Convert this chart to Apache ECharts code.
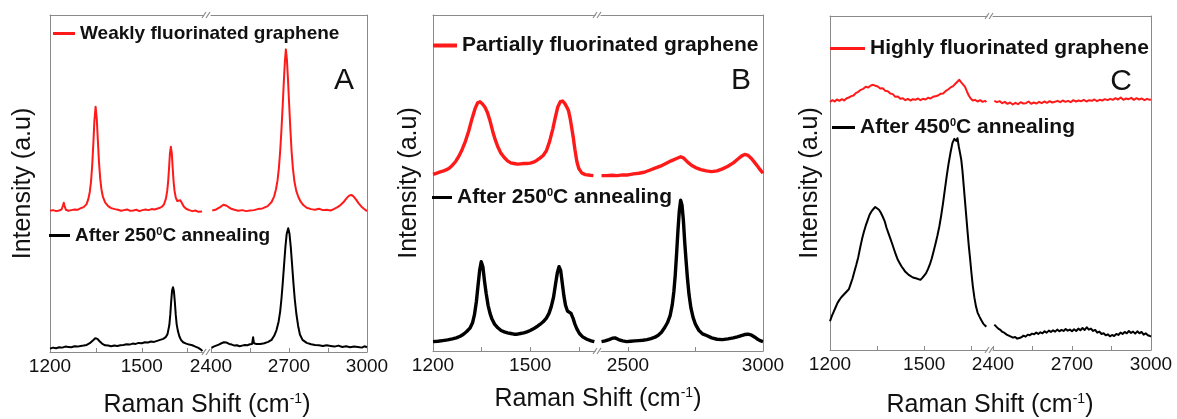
<!DOCTYPE html>
<html>
<head>
<meta charset="utf-8">
<script src="https://cdn.jsdelivr.net/npm/echarts@6/dist/echarts.min.js"></script>
<style>
  html, body { margin: 0; padding: 0; background: #ffffff; }
  #chart { width: 1177px; height: 419px; }
</style>
</head>
<body>
<div id="chart"></div>
<script>
// Raman spectra of fluorinated graphene before and after annealing.
// Each spectrum is split into a low (1200-1700 cm-1) and a high (2400-3000 cm-1) window.

// ---- axis ticks and labels (cm-1) ----
const ticksLow = [1200, 1350, 1500, 1650];
const labelsLow = [1200, 1500];
const ticksHighAC = [2400, 2550, 2700, 2850, 3000];
const labelsHighAC = [2400, 2700, 3000];
const ticksHighB = [2500, 2750, 3000];
const labelsHighB = [2500, 3000];

// ---- panel A: weakly fluorinated graphene ----
const weaklyLow = [[1200,41.9],[1210,42.1],[1220,41.8],[1230,42.0],[1238,42.3],[1242,43.4],[1245,44.3],[1248,43.2],[1252,42.2],[1260,41.9],[1270,42.1],[1280,42.3],[1290,42.2],[1299,42.6],[1310,43.0],[1319,43.8],[1325,45.3],[1330,47.5],[1334,50.5],[1338,55.5],[1342,62.5],[1345,68.5],[1349,72.8],[1353,69.0],[1356,63.5],[1360,56.5],[1364,51.5],[1368,48.3],[1373,46.0],[1380,44.4],[1390,43.3],[1400,42.7],[1412,42.4],[1422,42.2],[1432,41.9],[1442,42.1],[1452,42.3],[1462,41.9],[1472,42.0],[1482,42.2],[1492,41.8],[1502,42.1],[1512,42.3],[1522,42.1],[1532,42.4],[1542,42.3],[1552,42.6],[1560,42.8],[1567,43.2],[1573,43.9],[1579,45.6],[1583,47.8],[1586,50.5],[1589,54.5],[1592,59.0],[1595,60.9],[1598,59.0],[1601,54.5],[1604,50.5],[1607,47.8],[1611,45.8],[1616,44.8],[1621,44.8],[1626,45.0],[1631,44.2],[1637,43.2],[1645,42.5],[1655,42.1],[1665,41.8],[1675,42.0],[1685,41.6],[1697,41.7]];
const weaklyHigh = [[2405,42.0],[2420,42.3],[2435,43.0],[2448,43.7],[2460,43.4],[2475,42.6],[2490,42.2],[2505,41.9],[2520,42.1],[2535,41.8],[2550,42.0],[2565,42.1],[2580,42.4],[2598,42.6],[2618,43.3],[2633,44.5],[2643,46.2],[2650,48.3],[2656,51.0],[2661,54.5],[2666,59.5],[2671,66.0],[2676,73.5],[2680,80.0],[2684,86.0],[2688,89.8],[2692,86.8],[2696,81.0],[2700,74.5],[2705,66.5],[2710,59.5],[2715,54.5],[2721,50.5],[2728,47.8],[2736,46.0],[2745,44.6],[2755,43.6],[2768,42.8],[2785,42.4],[2800,42.2],[2815,42.5],[2830,42.1],[2845,42.2],[2860,42.0],[2872,42.4],[2885,42.9],[2898,43.6],[2910,44.5],[2921,45.6],[2931,46.4],[2940,46.6],[2948,46.2],[2958,45.2],[2968,44.1],[2978,43.2],[2988,42.5],[3000,41.8]];
const annealed250ALow = [[1200,1.0],[1210,1.3],[1220,1.1],[1230,1.4],[1240,1.3],[1250,1.6],[1260,1.5],[1270,1.4],[1280,1.7],[1290,1.6],[1300,1.8],[1310,1.9],[1320,2.1],[1330,2.6],[1340,3.4],[1348,4.1],[1355,3.9],[1362,3.2],[1370,2.5],[1380,2.0],[1390,1.9],[1400,1.7],[1410,1.9],[1420,1.8],[1430,2.0],[1440,2.1],[1450,2.3],[1460,2.2],[1470,2.5],[1480,2.4],[1490,2.7],[1500,2.6],[1510,2.9],[1520,2.8],[1530,3.1],[1540,3.0],[1550,3.3],[1560,3.6],[1570,3.9],[1578,4.4],[1584,5.3],[1590,8.0],[1593,11.0],[1596,15.0],[1599,18.3],[1602,19.2],[1605,18.0],[1608,14.8],[1611,11.0],[1614,8.2],[1618,6.2],[1623,4.6],[1628,3.6],[1635,2.9],[1645,2.5],[1655,2.2],[1665,2.0],[1675,1.6],[1685,1.2],[1692,0.8],[1698,0.3]];
const annealed250AHigh = [[2402,1.2],[2410,1.6],[2420,1.9],[2430,2.2],[2440,2.6],[2450,2.9],[2460,2.8],[2470,2.4],[2480,2.2],[2490,1.9],[2500,2.0],[2510,1.7],[2520,1.9],[2530,2.1],[2540,2.0],[2550,2.3],[2558,2.4],[2562,4.4],[2565,2.6],[2575,2.4],[2590,2.4],[2605,2.6],[2620,3.0],[2633,3.6],[2643,4.8],[2652,6.5],[2660,9.0],[2666,12.0],[2671,15.8],[2676,20.5],[2681,25.8],[2686,31.0],[2691,35.0],[2697,36.7],[2702,35.0],[2707,31.0],[2712,25.8],[2717,20.5],[2722,15.8],[2728,11.5],[2735,7.8],[2742,5.2],[2752,3.6],[2768,2.7],[2785,2.3],[2800,2.1],[2815,2.0],[2830,1.8],[2845,2.0],[2860,1.8],[2875,1.6],[2890,1.9],[2905,1.5],[2920,1.7],[2935,1.4],[2950,1.6],[2965,1.5],[2980,1.3],[2990,1.7],[3000,1.4]];

// ---- panel B: partially fluorinated graphene ----
const partiallyLow = [[1200,52.6],[1210,52.9],[1220,53.2],[1230,53.5],[1240,53.9],[1250,54.4],[1260,55.3],[1270,56.4],[1280,58.0],[1290,60.0],[1300,62.4],[1310,65.4],[1320,69.0],[1330,72.2],[1338,73.9],[1345,74.2],[1352,73.6],[1360,72.6],[1368,71.0],[1376,68.5],[1384,65.5],[1392,62.9],[1400,60.8],[1410,58.8],[1420,57.6],[1430,56.6],[1440,56.0],[1450,55.8],[1460,55.6],[1470,55.7],[1480,55.8],[1490,55.8],[1500,55.9],[1510,56.2],[1520,56.7],[1530,57.4],[1540,58.2],[1550,59.6],[1560,62.4],[1570,66.2],[1577,69.3],[1585,72.6],[1593,74.2],[1600,74.4],[1607,73.6],[1613,72.6],[1618,71.6],[1623,69.4],[1628,66.5],[1633,63.5],[1638,60.0],[1644,56.4],[1650,54.3],[1659,53.0],[1670,52.5],[1685,52.3],[1695,52.2]];
const partiallyHigh = [[2402,52.2],[2420,52.2],[2440,52.3],[2460,52.2],[2480,52.4],[2500,52.4],[2520,52.7],[2540,52.9],[2560,53.2],[2580,53.8],[2600,54.4],[2620,55.0],[2640,55.8],[2660,56.6],[2680,57.3],[2695,57.8],[2705,57.5],[2720,56.3],[2735,55.3],[2750,54.6],[2770,54.0],[2790,53.6],[2810,53.4],[2830,53.6],[2850,54.2],[2870,55.0],[2890,56.0],[2905,57.0],[2920,58.0],[2932,58.5],[2945,58.2],[2958,57.2],[2970,56.0],[2980,55.0],[2990,53.9],[3000,52.9]];
const annealed250BLow = [[1200,2.8],[1215,2.9],[1230,3.1],[1245,3.3],[1260,3.6],[1272,3.9],[1284,4.4],[1294,5.0],[1304,5.8],[1314,6.8],[1322,8.4],[1328,10.8],[1334,14.8],[1339,19.5],[1344,24.0],[1349,26.6],[1354,25.0],[1359,20.8],[1364,17.2],[1370,13.6],[1376,11.2],[1382,9.5],[1390,8.0],[1400,6.9],[1410,6.1],[1420,5.7],[1430,5.4],[1440,5.2],[1450,5.0],[1460,5.0],[1470,5.2],[1480,5.4],[1490,5.7],[1500,6.1],[1510,6.6],[1520,7.2],[1530,7.9],[1540,8.7],[1550,9.8],[1558,11.2],[1565,13.2],[1572,16.0],[1578,19.8],[1584,23.4],[1589,25.1],[1594,24.0],[1599,20.2],[1604,16.4],[1609,13.6],[1615,11.9],[1620,11.4],[1626,11.2],[1632,9.8],[1638,8.0],[1644,6.6],[1652,5.2],[1662,4.2],[1675,3.5],[1688,3.0],[1698,2.8]];
const annealed250BHigh = [[2402,2.8],[2415,3.0],[2430,3.4],[2442,3.8],[2452,3.9],[2465,3.4],[2480,3.0],[2495,2.8],[2510,2.9],[2525,3.0],[2540,3.1],[2555,3.2],[2570,3.4],[2585,3.7],[2600,4.1],[2612,4.7],[2624,5.6],[2636,7.0],[2646,8.4],[2656,10.5],[2664,13.8],[2670,17.8],[2675,22.6],[2680,29.0],[2685,35.8],[2690,41.6],[2695,44.9],[2700,43.4],[2705,39.0],[2710,32.5],[2715,27.0],[2720,21.8],[2726,16.8],[2733,12.8],[2741,10.0],[2750,7.9],[2762,6.2],[2776,5.1],[2791,4.6],[2810,3.9],[2830,3.5],[2850,3.4],[2870,3.6],[2890,3.9],[2905,4.2],[2920,4.6],[2932,4.9],[2945,5.0],[2958,4.7],[2970,4.1],[2982,3.4],[2992,3.0],[3000,2.8]];

// ---- panel C: highly fluorinated graphene ----
const highlyLow = [[1200,74.3],[1208,74.8],[1215,74.4],[1222,75.0],[1230,74.6],[1238,75.1],[1245,74.7],[1252,75.3],[1260,75.6],[1268,76.0],[1275,76.2],[1282,76.9],[1290,77.3],[1298,77.9],[1306,78.2],[1314,78.8],[1322,78.6],[1330,79.2],[1338,79.4],[1345,79.1],[1352,78.9],[1360,78.3],[1368,78.4],[1376,77.6],[1384,77.5],[1392,76.8],[1400,76.6],[1408,75.8],[1416,75.9],[1424,75.2],[1432,75.4],[1440,74.8],[1448,75.2],[1456,74.7],[1464,75.1],[1472,74.9],[1480,75.3],[1488,74.8],[1496,75.2],[1504,75.0],[1512,75.5],[1520,75.3],[1528,75.8],[1536,76.0],[1544,76.2],[1552,76.7],[1560,76.8],[1568,77.5],[1576,78.0],[1584,78.6],[1592,79.0],[1600,79.8],[1606,80.2],[1612,80.9],[1618,80.1],[1624,79.6],[1630,78.8],[1636,77.4],[1642,76.2],[1648,75.3],[1655,74.7],[1662,74.9],[1670,74.4],[1678,74.8],[1686,74.3],[1694,74.6],[1698,74.2]];
const highlyHigh = [[2405,74.6],[2415,74.2],[2425,74.5],[2435,73.9],[2445,74.3],[2455,73.7],[2465,74.1],[2475,73.5],[2485,74.0],[2495,73.6],[2505,74.2],[2515,73.8],[2525,73.9],[2535,74.4],[2545,73.7],[2555,74.1],[2565,73.8],[2575,74.3],[2585,73.9],[2595,74.4],[2605,74.0],[2615,74.5],[2625,74.1],[2635,74.3],[2645,74.6],[2655,74.2],[2665,74.7],[2675,74.3],[2685,74.6],[2695,74.2],[2705,74.8],[2715,74.4],[2725,74.7],[2735,74.5],[2745,74.9],[2755,74.4],[2765,74.8],[2775,74.6],[2785,75.0],[2795,74.5],[2805,74.9],[2815,74.7],[2825,75.1],[2835,74.8],[2845,75.2],[2855,74.9],[2865,75.4],[2875,75.0],[2885,75.6],[2895,74.9],[2905,75.3],[2915,75.1],[2925,75.5],[2935,74.9],[2945,75.4],[2955,75.0],[2965,75.3],[2975,74.8],[2985,75.2],[2995,74.9],[3000,75.0]];
const annealed450CLow = [[1200,8.6],[1206,10.2],[1212,11.5],[1218,12.8],[1224,14.1],[1230,15.0],[1236,15.8],[1242,16.4],[1248,17.0],[1254,17.3],[1260,18.2],[1266,19.8],[1272,21.5],[1278,23.6],[1284,25.6],[1290,27.8],[1296,30.6],[1302,33.2],[1308,35.4],[1314,37.3],[1320,38.9],[1326,40.5],[1332,41.5],[1338,42.2],[1344,42.8],[1350,42.5],[1356,42.0],[1362,41.1],[1368,39.9],[1374,38.6],[1380,36.6],[1386,35.0],[1392,33.4],[1398,31.8],[1404,30.1],[1410,28.5],[1416,27.0],[1422,26.0],[1428,25.0],[1434,24.2],[1440,23.4],[1446,23.0],[1452,22.4],[1458,22.2],[1464,21.7],[1470,22.0],[1476,21.4],[1482,21.8],[1488,21.0],[1494,21.6],[1500,22.3],[1506,23.0],[1512,24.2],[1518,25.6],[1524,27.4],[1530,29.6],[1536,31.8],[1542,34.2],[1548,36.9],[1554,40.2],[1560,44.0],[1566,48.2],[1572,52.3],[1578,56.0],[1584,59.2],[1590,62.0],[1596,63.2],[1602,62.6],[1606,63.4],[1610,61.0],[1614,59.0],[1618,57.0],[1622,53.5],[1626,49.0],[1630,44.5],[1634,40.0],[1638,35.5],[1642,31.2],[1646,27.5],[1650,23.5],[1655,19.0],[1660,15.6],[1665,13.0],[1670,11.2],[1676,10.0],[1682,8.9],[1688,7.9],[1694,7.3],[1698,7.0]];
const annealed450CHigh = [[2405,7.6],[2412,7.2],[2420,6.4],[2428,6.0],[2436,5.4],[2444,5.1],[2452,4.6],[2460,4.3],[2468,4.0],[2476,3.7],[2484,3.9],[2492,3.4],[2500,3.6],[2508,3.8],[2516,4.3],[2524,4.0],[2532,4.6],[2540,4.4],[2548,4.9],[2556,4.7],[2564,5.2],[2572,4.8],[2580,5.3],[2588,5.0],[2596,5.6],[2604,5.2],[2612,5.8],[2620,5.4],[2628,5.9],[2636,5.5],[2644,6.1],[2652,5.6],[2660,6.0],[2668,5.7],[2676,6.3],[2684,5.8],[2692,6.1],[2700,5.6],[2708,6.2],[2716,5.7],[2724,6.4],[2732,5.9],[2740,6.6],[2748,6.0],[2756,6.8],[2764,6.1],[2772,6.4],[2780,5.7],[2788,6.0],[2796,5.2],[2804,5.5],[2812,4.8],[2820,5.0],[2828,4.4],[2836,4.7],[2844,4.1],[2852,4.5],[2860,4.2],[2868,4.8],[2876,4.5],[2884,5.2],[2892,4.8],[2900,5.4],[2908,5.0],[2916,5.7],[2924,5.1],[2932,5.5],[2940,4.9],[2948,5.6],[2956,5.0],[2964,5.4],[2972,4.6],[2980,5.0],[2988,4.4],[2996,4.2],[3000,4.0]];

// ---- layout and styling ----
const FONT = "'Liberation Sans', Arial, Helvetica, sans-serif";
const FRAME = '#8a8a8a';
const INK = '#111111';
const RED = '#ff1a1a';
const BLACK = '#000000';

const panels = [
  { letter: 'A', top: 15, height: 337, low: { left: 50, width: 153 }, high: { left: 211, width: 156 },
    ticksHigh: ticksHighAC, labelsHigh: labelsHighAC, lineWidth: 2, textSize: 19, nameGap: 14, titleY: 405, letterDx: 23,
    raw: { name: 'Weakly fluorinated graphene', low: weaklyLow, high: weaklyHigh, color: RED, lx: 53, ly: 24, icon: 22, thick: 3 },
    annealed: { name: 'After 250°C annealing', low: annealed250ALow, high: annealed250AHigh, color: BLACK, lx: 49, ly: 226, icon: 21, thick: 3 } },
  { letter: 'B', top: 15, height: 336, low: { left: 433, width: 162 }, high: { left: 601, width: 162 },
    ticksHigh: ticksHighB, labelsHigh: labelsHighB, lineWidth: 3.4, textSize: 21, nameGap: 11, titleY: 399, letterDx: 22,
    raw: { name: 'Partially fluorinated graphene', low: partiallyLow, high: partiallyHigh, color: RED, lx: 433, ly: 35, icon: 24, thick: 4 },
    annealed: { name: 'After 250°C annealing ', low: annealed250BLow, high: annealed250BHigh, color: BLACK, lx: 432, ly: 187, icon: 20, thick: 3 } },
  { letter: 'C', top: 16, height: 334, low: { left: 830, width: 157 }, high: { left: 993, width: 158 },
    ticksHigh: ticksHighAC, labelsHigh: labelsHighAC, lineWidth: 2, textSize: 21, nameGap: 7, titleY: 405, letterDx: 30,
    raw: { name: 'Highly fluorinated graphene', low: highlyLow, high: highlyHigh, color: RED, lx: 830, ly: 38, icon: 35, thick: 3 },
    annealed: { name: 'After 450°C annealing', low: annealed450CLow, high: annealed450CHigh, color: BLACK, lx: 832, ly: 117, icon: 23, thick: 3 } }
];

// legend text with a raised "0" in front of C
function legendRich(name) {
  const m = name.trim().match(/^(.*?)(\d+)°C(.*)$/);
  if (!m) return '{t|' + name + '}';
  return '{t|' + m[1] + m[2] + '}{s|0}{t|C' + m[3] + '}';
}

const grid = [], xAxis = [], yAxis = [], series = [], legend = [], graphic = [];

panels.forEach((p) => {
  ['low', 'high'].forEach((part) => {
    const gi = grid.length;
    const isLow = part === 'low';
    grid.push({ left: p[part].left, width: p[part].width, top: p.top, height: p.height, containLabel: false });

    // bottom axis with ticks and labels
    xAxis.push({
      type: 'value', gridIndex: gi, position: 'bottom',
      min: isLow ? 1200 : 2400, max: isLow ? 1700 : 3000,
      axisLine: { show: true, onZero: false, lineStyle: { color: FRAME, width: 1 } },
      axisTick: { show: true, inside: true, length: 4, customValues: isLow ? ticksLow : p.ticksHigh, lineStyle: { color: FRAME, width: 1 } },
      axisLabel: { show: true, customValues: isLow ? labelsLow : p.labelsHigh, margin: 5, fontSize: 19, color: INK, fontFamily: FONT,
        formatter: (v) => String(v) },
      splitLine: { show: false }
    });
    // top frame edge
    xAxis.push({
      type: 'value', gridIndex: gi, position: 'top',
      min: isLow ? 1200 : 2400, max: isLow ? 1700 : 3000,
      axisLine: { show: true, onZero: false, lineStyle: { color: FRAME, width: 1 } },
      axisTick: { show: false }, axisLabel: { show: false }, splitLine: { show: false }
    });
    yAxis.push({
      type: 'value', gridIndex: gi, position: isLow ? 'left' : 'right', min: 0, max: 100,
      axisLine: { show: true, onZero: false, lineStyle: { color: FRAME, width: 1 } },
      axisTick: { show: false }, axisLabel: { show: false }, splitLine: { show: false },
      name: isLow ? 'Intensity (a.u)' : '', nameLocation: 'middle', nameGap: p.nameGap, nameRotate: 90,
      nameTextStyle: { fontSize: 25, fontFamily: FONT, color: INK }
    });

    [p.raw, p.annealed].forEach((s) => {
      series.push({
        type: 'line', name: s.name, xAxisIndex: gi * 2, yAxisIndex: gi,
        data: s[part], showSymbol: false, symbol: 'none', smooth: false, silent: true,
        itemStyle: { color: s.color }, lineStyle: { color: s.color, width: p.lineWidth, join: 'round' },
        animation: false
      });
    });
  });

  [p.raw, p.annealed].forEach((s) => {
    legend.push({
      data: [s.name], left: s.lx, top: s.ly, padding: 0, icon: 'rect', itemWidth: s.icon, itemHeight: s.thick,
      selectedMode: false, formatter: legendRich,
      textStyle: {
        color: INK, fontFamily: FONT, fontWeight: 'bold', fontSize: p.textSize,
        rich: {
          t: { color: INK, fontFamily: FONT, fontWeight: 'bold', fontSize: p.textSize },
          s: { color: INK, fontFamily: FONT, fontWeight: 'bold', fontSize: 11, verticalAlign: 'top' }
        }
      }
    });
  });

  // break marks and axis title, centred on the gap between the two windows
  const lowRight = p.low.left + p.low.width;
  const bx = (lowRight + p.high.left) / 2;
  [p.top, p.top + p.height].forEach((y) => {
    [0, 1].forEach((k) => {
      graphic.push({ type: 'line', silent: true,
        shape: { x1: bx - 5 + k * 4, y1: y + 3, x2: bx - 1 + k * 4, y2: y - 3 },
        style: { stroke: FRAME, lineWidth: 1.2 } });
    });
  });
  graphic.push({ type: 'text', silent: true, x: bx, y: p.titleY,
    style: { text: '{t|Raman Shift (cm}{s|-1}{t|)}', align: 'center', verticalAlign: 'middle',
      rich: { t: { fontSize: 25, fontFamily: FONT, fill: INK }, s: { fontSize: 14, fontFamily: FONT, fill: INK, verticalAlign: 'top' } } } });
  graphic.push({ type: 'text', silent: true, x: p.high.left + p.high.width - p.letterDx, y: p.top + 66,
    style: { text: p.letter, fontSize: 30, fontFamily: FONT, fill: INK, align: 'center', verticalAlign: 'middle' } });
});

const chart = echarts.init(document.getElementById('chart'), null, { renderer: 'canvas' });
chart.setOption({
  animation: false,
  backgroundColor: '#ffffff',
  grid, xAxis, yAxis, series, legend, graphic
});
</script>
</body>
</html>
